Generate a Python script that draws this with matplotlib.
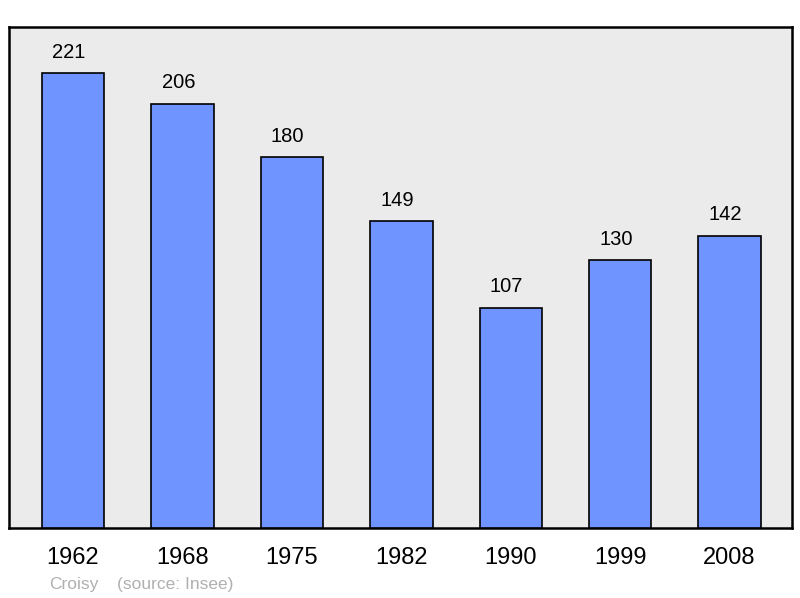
import matplotlib
matplotlib.use("Agg")
import matplotlib.pyplot as plt
import numpy as np

plt.rcParams["font.family"] = ["Liberation Sans", "DejaVu Sans"]

years = ["1962", "1968", "1975", "1982", "1990", "1999", "2008"]
population = [221, 206, 180, 149, 107, 130, 142]
commune = "Croisy"
source = "(source: Insee)"

W, H = 800, 598
fig = plt.figure(figsize=(W / 100, H / 100), dpi=100)
ax = fig.add_axes([9 / W, (H - 528) / H, 783 / W, 501 / H])
ax.set_facecolor("#ebebeb")

x = np.arange(len(years))
bars = ax.bar(x, population, width=0.57, color="#7094ff", edgecolor="black",
              linewidth=1.2, zorder=3)
for xi, v in zip(x, population):
    ax.annotate(str(v), (xi, v), xytext=(-3, 15), textcoords="offset points",
                ha="center", va="center", fontsize=14.5)

ax.set_xlim(-0.585, 6.57)
ax.set_ylim(0, 243.3)
ax.set_xticks(x)
ax.set_xticklabels(years, fontsize=17)
ax.tick_params(axis="x", length=0, pad=14)
ax.set_yticks([])
for s in ax.spines.values():
    s.set_linewidth(1.8)
    s.set_color("black")

fig.text(49 / W, 1 - 584 / H, commune, color="#b0b0b0", fontsize=12.5, va="center")
fig.text(117 / W, 1 - 584 / H, source, color="#b0b0b0", fontsize=12.5, va="center")

fig.savefig("out.png", dpi=100)
